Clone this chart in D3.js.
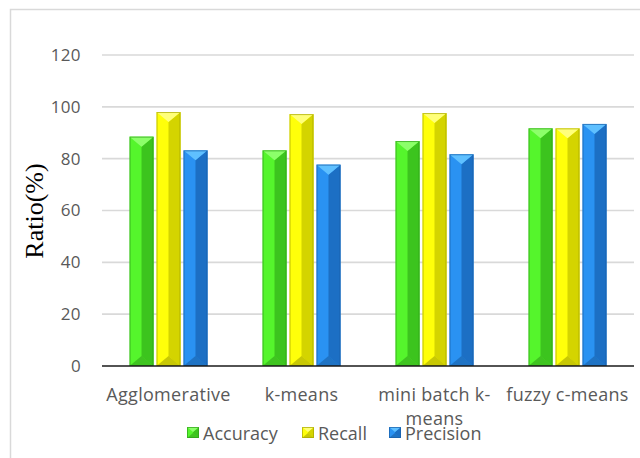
<!DOCTYPE html>
<html>
<head>
<meta charset="utf-8">
<script src="https://cdn.jsdelivr.net/npm/d3@7"></script>
<style>
  html, body { margin: 0; padding: 0; background: #fff; }
  svg { display: block; }
</style>
</head>
<body>
<svg id="chart" width="640" height="458"></svg>
<script>
// Clustering methods and their scores (%)
const categories = ["Agglomerative", "k-means", "mini batch k-means", "fuzzy c-means"];
const series = ["Accuracy", "Recall", "Precision"];
const accuracy = [88.5, 83.2, 86.8, 91.7];
const recall = [98.0, 97.2, 97.6, 91.7];
const precision = [83.2, 77.7, 81.7, 93.4];
const yTicks = [0, 20, 40, 60, 80, 100, 120];

const values = { Accuracy: accuracy, Recall: recall, Precision: precision };

// Face colours for the bevelled bars
const palette = {
  Accuracy:  { main: "#55f52c", top: "#8cff6a", side: "#3cc41e", bottom: "#2e9a18", edge: "#2f9f1a" },
  Recall:    { main: "#ffff0a", top: "#ffff7a", side: "#d4d400", bottom: "#9a9a00", edge: "#a6a600" },
  Precision: { main: "#2a92f2", top: "#5fc0ff", side: "#1c6fc4", bottom: "#155a9e", edge: "#1a5fa8" }
};

const FONT = "'Open Sans', 'Noto Sans', sans-serif";
const svg = d3.select("#chart");
const plotLeft = 102, plotRight = 634, plotTop = 55, plotBottom = 366;

// Outer chart frame
svg.append("rect")
  .attr("x", 10.5).attr("y", 9.5)
  .attr("width", 660).attr("height", 480)
  .attr("fill", "none").attr("stroke", "#d9d9d9").attr("stroke-width", 1.5);

const y = d3.scaleLinear().domain([0, 120]).range([plotBottom, plotTop]);
const x0 = d3.scaleBand().domain(categories).range([plotLeft, plotRight])
  .paddingInner(0.414).paddingOuter(0.207);
const x1 = d3.scaleBand().domain(series).range([0, x0.bandwidth()])
  .paddingInner(0.111).paddingOuter(0);

// Horizontal gridlines
svg.append("g")
  .selectAll("line")
  .data(yTicks.filter(t => t > 0))
  .join("line")
  .attr("x1", plotLeft).attr("x2", plotRight)
  .attr("y1", d => y(d)).attr("y2", d => y(d))
  .attr("stroke", "#d9d9d9").attr("stroke-width", 1.6);

// Value axis labels
const yAxis = d3.axisLeft(y).tickValues(yTicks).tickSize(0).tickPadding(21);
const gy = svg.append("g").attr("transform", `translate(${plotLeft},0)`).call(yAxis);
gy.select(".domain").remove();
gy.selectAll("text")
  .attr("fill", "#595959")
  .style("font-family", FONT)
  .style("font-size", "17px")
  .style("letter-spacing", "0.4px");

// Axis title
svg.append("text")
  .attr("transform", "translate(43,211) rotate(-90)")
  .attr("text-anchor", "middle")
  .attr("fill", "#000")
  .style("font-family", "'Liberation Serif', 'Times New Roman', serif")
  .style("font-size", "26px")
  .text("Ratio(%)");

// Bevelled bar: flat front, darker right face, light top chevron, dark bottom chevron
function bevelBar(g, bx, by, w, h, c, d) {
  const cx = bx + w * 0.5;
  g.append("rect").attr("x", bx).attr("y", by).attr("width", w).attr("height", h).attr("fill", c.main);
  g.append("path")
    .attr("d", `M${cx},${by + d} L${bx + w},${by} L${bx + w},${by + h} L${cx},${by + h - d} Z`)
    .attr("fill", c.side);
  g.append("path")
    .attr("d", `M${bx},${by} L${bx + w},${by} L${cx},${by + d} Z`)
    .attr("fill", c.top);
  g.append("path")
    .attr("d", `M${bx},${by + h} L${bx + w},${by + h} L${cx},${by + h - d} Z`)
    .attr("fill", c.bottom).attr("opacity", 0.55);
  g.append("rect").attr("x", bx + 0.5).attr("y", by + 0.5).attr("width", w - 1).attr("height", h - 1)
    .attr("fill", "none").attr("stroke", c.edge).attr("stroke-width", 1).attr("opacity", 0.7);
}

const bars = svg.append("g");
categories.forEach((cat, i) => {
  series.forEach(s => {
    const v = values[s][i];
    const bx = x0(cat) + x1(s);
    const by = y(v);
    bevelBar(bars, bx, by, x1.bandwidth(), plotBottom - by, palette[s], 10);
  });
});

// Category axis line
svg.append("line")
  .attr("x1", plotLeft).attr("x2", plotRight)
  .attr("y1", plotBottom).attr("y2", plotBottom)
  .attr("stroke", "#1a1a1a").attr("stroke-width", 1.6);

// Category labels, long names wrapped onto a second line
const catLines = {
  "Agglomerative": ["Agglomerative"],
  "k-means": ["k-means"],
  "mini batch k-means": ["mini batch k-", "means"],
  "fuzzy c-means": ["fuzzy c-means"]
};
const labels = svg.append("g")
  .style("font-family", FONT)
  .style("font-size", "18px")
  .style("letter-spacing", "0.3px")
  .attr("fill", "#595959");
categories.forEach(cat => {
  const cx = x0(cat) + x0.bandwidth() / 2;
  const t = labels.append("text")
    .attr("text-anchor", "middle")
    .attr("x", cx)
    .attr("y", 401);
  catLines[cat].forEach((ln, k) => {
    t.append("tspan")
      .attr("x", cx)
      .attr("dy", k === 0 ? 0 : 24)
      .text(ln);
  });
});

// Legend entries: swatch followed by its series name
const legendX = [187, 302, 389];
const legend = svg.append("g");
series.forEach((s, i) => {
  const g = legend.append("g");
  bevelBar(g, legendX[i], 427, 12, 11, palette[s], 5);
  g.append("text")
    .attr("x", legendX[i] + 16).attr("y", 440)
    .attr("fill", "#595959")
    .style("font-family", FONT)
    .style("font-size", "18px")
    .text(s);
});
</script>
</body>
</html>
